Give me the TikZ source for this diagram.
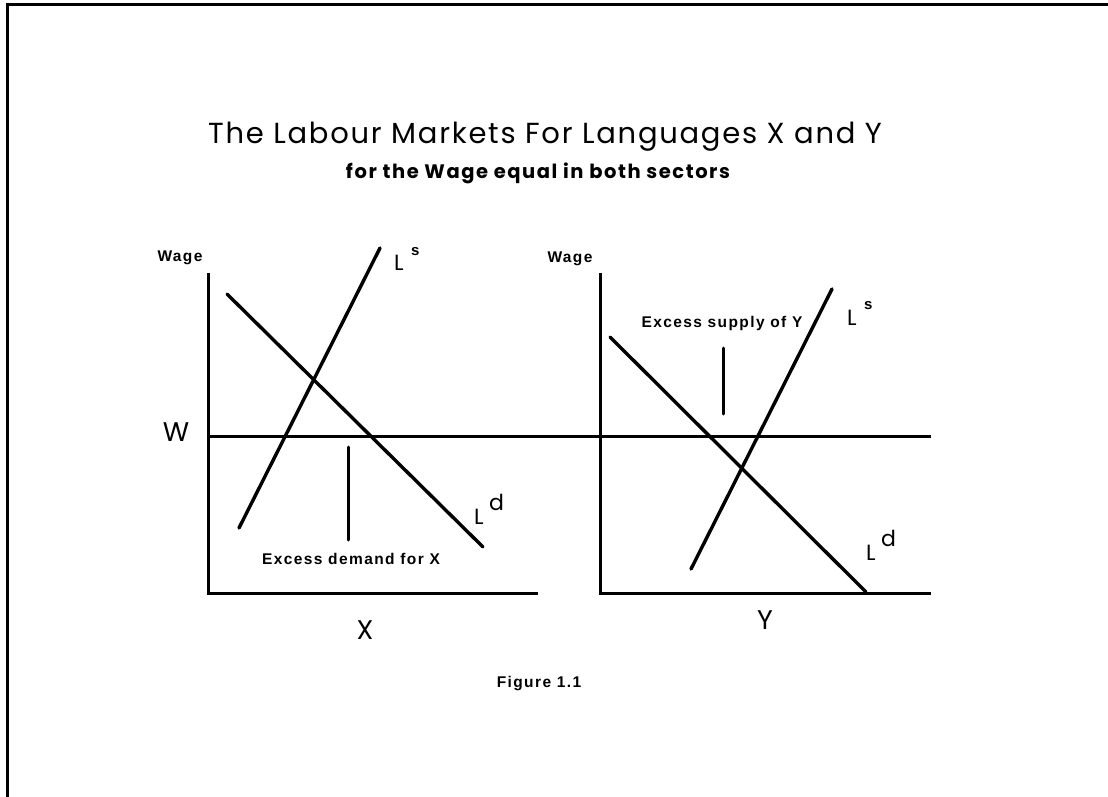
\documentclass[tikz,border=0pt]{standalone}
\usepackage{fontspec}
\setmainfont{Liberation Sans}
\newfontfamily\geo{Poppins}
\newfontfamily\geospaced[LetterSpace=6]{Poppins}
\newfontfamily\geosub[LetterSpace=8]{Poppins}
\newfontfamily\lab[LetterSpace=9]{Liberation Sans}
\newfontfamily\labplain{Liberation Sans}
\tikzset{
  curve/.style={line width=3.4pt, line cap=round},
  axis/.style={line width=3pt},
  pointer/.style={line width=3pt, line cap=round},
  title/.style={inner sep=0pt, font=\geospaced\fontsize{29}{34}\selectfont},
  subtitle/.style={inner sep=0pt, font=\geosub\bfseries\fontsize{19.5}{24}\selectfont},
  small/.style={inner sep=0pt, font=\lab\bfseries\fontsize{15.5}{18}\selectfont},
  bigletter/.style={inner sep=0pt, font=\geo\fontsize{27}{30}\selectfont},
  curvelab/.style={inner sep=0pt, font=\geo\fontsize{22}{26}\selectfont},
  suplab/.style={inner sep=0pt, font=\labplain\bfseries\fontsize{15}{18}\selectfont},
}
\begin{document}
\begin{tikzpicture}[x=1pt,y=-1pt]
\useasboundingbox (0,0) rectangle (1108,797);
% frame (top and left only)
\coordinate (fbl) at (7,797);
\coordinate (ftl) at (7,5);
\coordinate (ftr) at (1108,5);
\draw[line width=3pt] (fbl) -- (ftl) -- (ftr);

% titles
\node[title] (t1) at (545,137) {The Labour Markets For Languages X and Y};
\node[subtitle] (t2) at (538,173) {for the Wage equal in both sectors};

% left panel axes
\coordinate (la) at (208,273);
\coordinate (lo) at (208,593);
\coordinate (lx) at (538,593);
\draw[axis] (la) -- (lo) -- (lx);
% right panel axes
\coordinate (ra) at (600,273);
\coordinate (ro) at (600,593);
\coordinate (rx) at (931,593);
\draw[axis] (ra) -- (ro) -- (rx);
% wage line
\coordinate (w0) at (208,436);
\coordinate (w1) at (931,436);
\draw[axis] (w0) -- (w1);

% axis labels
\node[small] (wl) at (180,258) {Wage};
\node[small] (wr) at (570,259) {Wage};
\node[bigletter] (W) at (176,432) {W};
\node[bigletter] (X) at (365,630) {X};
\node[bigletter] (Y) at (765,620) {Y};

% left curves
\coordinate (lds) at (227,294);
\coordinate (lde) at (483,547);
\draw[curve] (lds) -- (lde);
\coordinate (lss) at (239,528);
\coordinate (lse) at (380,248);
\draw[curve] (lss) -- (lse);
\node[curvelab, anchor=base west] (lsL) at (394,270) {L};
\node[suplab, anchor=base west] (lsS) at (411,255) {s};
\node[curvelab, anchor=base west] (ldL) at (474,524) {L};
\node[curvelab, anchor=base west] (ldD) at (489,510) {d};

% left pointer
\coordinate (lp0) at (348,447);
\coordinate (lp1) at (348,540);
\draw[pointer] (lp0) -- (lp1);
\node[small] (edx) at (351,559) {Excess demand for X};

% right curves
\coordinate (rds) at (610,337);
\coordinate (rde) at (866,592);
\draw[curve] (rds) -- (rde);
\coordinate (rss) at (691,569);
\coordinate (rse) at (832,289);
\draw[curve] (rss) -- (rse);
\node[curvelab, anchor=base west] (rsL) at (847,325) {L};
\node[suplab, anchor=base west] (rsS) at (864,309) {s};
\node[curvelab, anchor=base west] (rdL) at (866,560) {L};
\node[curvelab, anchor=base west] (rdD) at (881,546) {d};

% right pointer
\coordinate (rp0) at (723,348);
\coordinate (rp1) at (723,414);
\draw[pointer] (rp0) -- (rp1);
\node[small] (esy) at (722,323) {Excess supply of Y};

% caption
\node[small] (cap) at (539,684) {Figure 1.1};
\end{tikzpicture}
\end{document}
